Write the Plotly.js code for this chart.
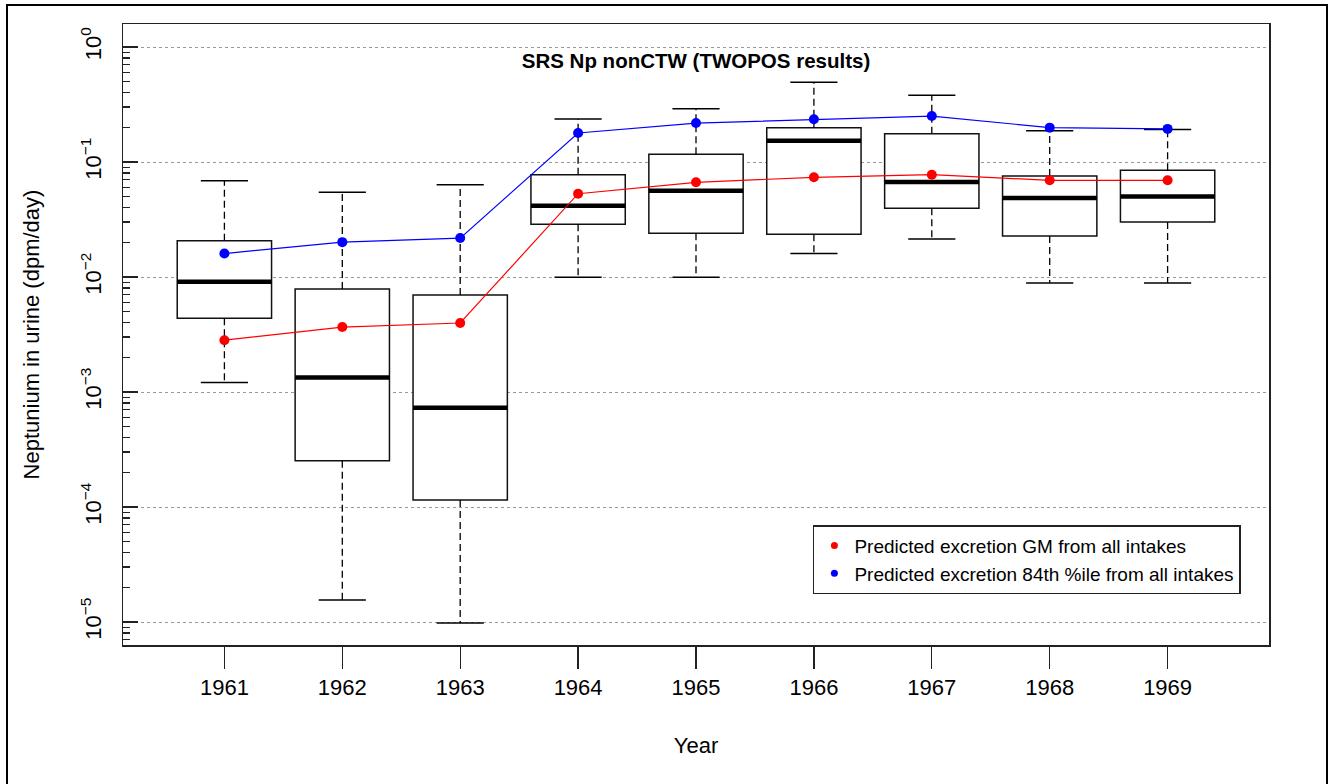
<!DOCTYPE html>
<html>
<head>
<meta charset="utf-8">
<script src="https://cdn.plot.ly/plotly-3.0.1.min.js"></script>
<style>html,body{margin:0;padding:0;background:#fff;}#chart{width:1328px;height:784px;}</style>
</head>
<body>
<div id="chart"></div>
<script>
// ---- data ----
const years = ['1961','1962','1963','1964','1965','1966','1967','1968','1969'];
const lowerWhisker = [0.00121, 1.55e-5, 9.8e-6, 0.00993, 0.00993, 0.0160, 0.0214, 0.00887, 0.00887];
const q1Vals       = [0.00437, 2.53e-4, 1.15e-4, 0.0287, 0.0240, 0.0235, 0.0396, 0.0227, 0.0301];
const medianVals   = [0.0091, 0.00134, 7.3e-4, 0.0417, 0.0563, 0.153, 0.067, 0.0486, 0.050];
const q3Vals       = [0.0207, 0.00787, 0.00697, 0.0776, 0.1167, 0.199, 0.176, 0.0755, 0.0847];
const upperWhisker = [0.0687, 0.0545, 0.0635, 0.2366, 0.291, 0.493, 0.380, 0.187, 0.192];
const gmPredicted  = [0.00282, 0.00367, 0.00398, 0.0530, 0.0666, 0.0736, 0.0776, 0.0693, 0.0693];
const p84Predicted = [0.0160, 0.0201, 0.0218, 0.1787, 0.218, 0.235, 0.251, 0.199, 0.194];
const yTickExp = [-5, -4, -3, -2, -1, 0];
const legendNames = ['Predicted excretion GM from all intakes', 'Predicted excretion 84th %ile from all intakes'];

const FONT = 'Liberation Sans, Arial, Helvetica, sans-serif';
const idx = years.map((_, i) => i);
const boxHalf = 0.4, capHalf = 0.2;

// whiskers (dashed)
const wx = [], wy = [];
idx.forEach(i => {
  wx.push(i, i, null, i, i, null);
  wy.push(q3Vals[i], upperWhisker[i], null, q1Vals[i], lowerWhisker[i], null);
});
// caps
const cx = [], cy = [];
idx.forEach(i => {
  cx.push(i - capHalf, i + capHalf, null, i - capHalf, i + capHalf, null);
  cy.push(upperWhisker[i], upperWhisker[i], null, lowerWhisker[i], lowerWhisker[i], null);
});
// thick medians
const mx = [], my = [];
idx.forEach(i => {
  mx.push(i - boxHalf, i + boxHalf, null);
  my.push(medianVals[i], medianVals[i], null);
});

const traces = [
  {type: 'scatter', mode: 'lines', x: wx, y: wy, line: {color: '#000', width: 1.3, dash: '7px,4px'}, hoverinfo: 'skip', showlegend: false},
  {type: 'scatter', mode: 'lines', x: cx, y: cy, line: {color: '#000', width: 1.5}, hoverinfo: 'skip', showlegend: false},
  {type: 'box', x: idx, q1: q1Vals, median: medianVals, q3: q3Vals, lowerfence: q1Vals, upperfence: q3Vals,
   width: 0.8, whiskerwidth: 0, fillcolor: '#fff', line: {color: '#111', width: 1.5}, hoverinfo: 'skip', showlegend: false},
  {type: 'scatter', mode: 'lines', x: mx, y: my, line: {color: '#000', width: 4.5}, hoverinfo: 'skip', showlegend: false},
  {type: 'scatter', mode: 'lines+markers', x: idx, y: gmPredicted, line: {color: '#ff0000', width: 1.2},
   marker: {color: '#ff0000', size: 10}, showlegend: false},
  {type: 'scatter', mode: 'lines+markers', x: idx, y: p84Predicted, line: {color: '#0000ff', width: 1.2},
   marker: {color: '#0000ff', size: 10}, showlegend: false},
  {type: 'scatter', mode: 'markers', x: [null], y: [null], name: legendNames[0], marker: {color: '#ff0000', size: 7}},
  {type: 'scatter', mode: 'markers', x: [null], y: [null], name: legendNames[1], marker: {color: '#0000ff', size: 7}},
  // carrier for the minor-tick overlay axis
  {type: 'scatter', mode: 'markers', x: [null], y: [null], yaxis: 'y2', showlegend: false, hoverinfo: 'skip'}
];

const minorVals = [];
for (let e = -6; e <= 0; e++) for (let k = 2; k <= 9; k++) minorVals.push(k * Math.pow(10, e));

const layout = {
  width: 1328, height: 784,
  margin: {l: 123, r: 59, t: 24, b: 139},
  paper_bgcolor: '#fff', plot_bgcolor: '#fff',
  font: {family: FONT, color: '#000'},
  title: {text: '<b>SRS Np nonCTW (TWOPOS results)</b>', font: {family: FONT, size: 20.5, color: '#000'},
          xref: 'paper', x: 0.5, xanchor: 'center', yref: 'container', y: 1 - 61 / 784, yanchor: 'middle'},
  showlegend: true,
  legend: {x: 0.602, y: 0.193, xanchor: 'left', yanchor: 'top', bgcolor: '#fff', bordercolor: '#222', borderwidth: 1.5,
           font: {family: FONT, size: 19, color: '#000'}, tracegroupgap: 0},
  xaxis: {
    type: 'linear', range: [-0.86, 8.86], tickmode: 'array', tickvals: idx, ticktext: years,
    showgrid: false, zeroline: false, showline: true, mirror: true, linecolor: '#222', linewidth: 1.5,
    ticks: 'outside', ticklen: 22, tickwidth: 1.3, tickcolor: '#222',
    tickfont: {family: FONT, size: 22, color: '#000'},
    title: {text: 'Year', font: {family: FONT, size: 22, color: '#000'}, standoff: 38}
  },
  yaxis: {
    type: 'log', range: [-5.2, 0.2], tickmode: 'array',
    tickvals: yTickExp.map(e => Math.pow(10, e)),
    ticktext: yTickExp.map(e => '10<sup>' + (e < 0 ? '\u2212' + (-e) : e) + '</sup>'),
    tickangle: -90, ticklabelstandoff: 12,
    showgrid: true, gridcolor: '#999', griddash: 'dot', gridwidth: 1,
    zeroline: false, showline: true, mirror: true, linecolor: '#222', linewidth: 1.5,
    ticks: 'inside', ticklen: 15, tickwidth: 1.3, tickcolor: '#222',
    tickfont: {family: FONT, size: 22, color: '#000'},
    title: {text: 'Neptunium in urine (dpm/day)', font: {family: FONT, size: 22, color: '#000'}, standoff: 32}
  },
  yaxis2: {
    type: 'log', range: [-5.2, 0.2], overlaying: 'y', anchor: 'x', side: 'left',
    tickmode: 'array', tickvals: minorVals, showticklabels: false,
    ticks: 'inside', ticklen: 7, tickwidth: 1.3, tickcolor: '#222',
    showgrid: false, zeroline: false, showline: false
  },
  shapes: [
    {type: 'rect', xref: 'paper', yref: 'paper', x0: (7 - 123) / 1146, x1: (1327 - 123) / 1146,
     y0: (645 - 795) / 621, y1: (645 - 5) / 621, line: {color: '#000', width: 2}, fillcolor: 'rgba(0,0,0,0)', layer: 'below'}
  ]
};

Plotly.newPlot('chart', traces, layout, {displayModeBar: false, staticPlot: true});
</script>
</body>
</html>
